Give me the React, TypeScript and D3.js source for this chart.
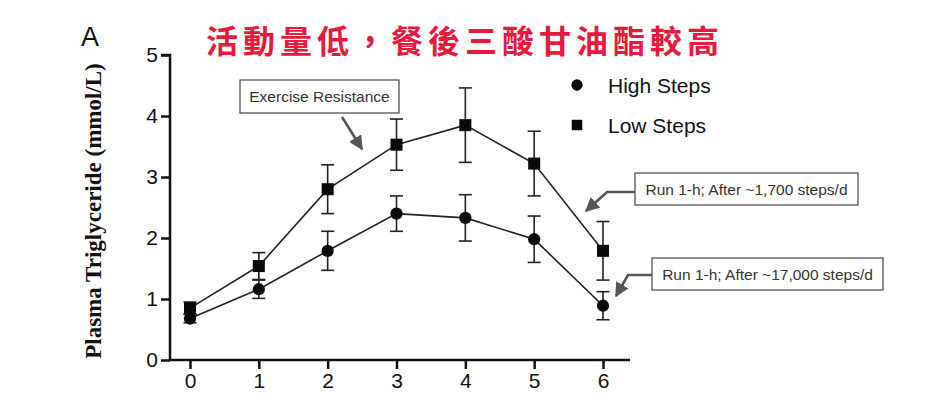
import { useEffect, useRef } from 'react';
import * as d3 from 'd3';

const hours = [0, 1, 2, 3, 4, 5, 6];
const highMean = [0.68, 1.16, 1.79, 2.4, 2.33, 1.98, 0.89];
const highErr = [0.07, 0.15, 0.32, 0.29, 0.38, 0.38, 0.23];
const lowMean = [0.85, 1.54, 2.8, 3.53, 3.85, 3.22, 1.79];
const lowErr = [0.1, 0.22, 0.4, 0.42, 0.61, 0.53, 0.48];
const yTicks = [0, 1, 2, 3, 4, 5];

const W = 927;
const H = 395;
const AX = "Arial, 'Liberation Sans', sans-serif";

export default function App() {
  const svgRef = useRef<SVGSVGElement>(null);

  useEffect(() => {
    if (!svgRef.current) return;
    const svg = d3.select(svgRef.current);
    svg.selectAll('*').remove();

    const x = d3.scaleLinear().domain([0, 6]).range([190, 603]);
    const y = d3.scaleLinear().domain([0, 5]).range([360, 55]);

    // arrow head marker
    svg.append('defs').append('marker')
      .attr('id', 'head')
      .attr('viewBox', '0 0 10 10')
      .attr('refX', 9).attr('refY', 5)
      .attr('markerWidth', 5.5).attr('markerHeight', 5.5)
      .attr('orient', 'auto')
      .append('path').attr('d', 'M0,0 L10,5 L0,10 Z').attr('fill', '#555');

    // title + panel letter
    svg.append('text')
      .attr('x', 206).attr('y', 53)
      .attr('font-family', "'Noto Sans CJK TC', sans-serif")
      .attr('font-weight', 'bold').attr('font-size', 32)
      .attr('letter-spacing', 5)
      .attr('fill', '#e8193c')
      .text('活動量低，餐後三酸甘油酯較高');

    svg.append('text')
      .attr('x', 81).attr('y', 46)
      .attr('font-family', AX).attr('font-size', 27)
      .attr('fill', '#111').text('A');

    // axes
    const yAxis = svg.append('g')
      .attr('transform', 'translate(170,0)')
      .call(d3.axisLeft(y).tickValues(yTicks).tickSize(9).tickPadding(3).tickFormat(d3.format('d')));
    const xAxis = svg.append('g')
      .attr('transform', 'translate(0,360)')
      .call(d3.axisBottom(x).tickValues(hours).tickSize(9).tickPadding(4).tickFormat(d3.format('d')));
    [yAxis, xAxis].forEach(a => {
      a.selectAll('path').attr('stroke', '#111').attr('stroke-width', 2.5);
      a.selectAll('line').attr('stroke', '#111').attr('stroke-width', 2.5);
      a.selectAll('text').attr('font-family', AX).attr('font-size', 21).attr('fill', '#111');
    });
    yAxis.select('.domain').attr('d', 'M-9,55H0V361');
    xAxis.select('.domain').attr('d', 'M169,0H630');

    svg.append('text')
      .attr('transform', 'translate(101,211) rotate(-90)')
      .attr('text-anchor', 'middle')
      .attr('font-family', "'Liberation Serif', 'Times New Roman', serif")
      .attr('font-weight', 'bold').attr('font-size', 23)
      .attr('fill', '#111')
      .text('Plasma Triglyceride (mmol/L)');

    const line = d3.line<number>().x((_, i) => x(hours[i])).y(d => y(d));
    const series = [
      { mean: lowMean, err: lowErr, shape: d3.symbolSquare, size: 145 },
      { mean: highMean, err: highErr, shape: d3.symbolCircle, size: 118 },
    ];

    series.forEach(s => {
      svg.append('path')
        .attr('d', line(s.mean))
        .attr('fill', 'none').attr('stroke', '#222').attr('stroke-width', 1.6);
      const g = svg.append('g').attr('stroke', '#222').attr('stroke-width', 1.6);
      s.mean.forEach((m, i) => {
        const cx = x(hours[i]);
        const y1 = y(m + s.err[i]);
        const y2 = y(m - s.err[i]);
        g.append('line').attr('x1', cx).attr('x2', cx).attr('y1', y1).attr('y2', y2);
        g.append('line').attr('x1', cx - 6.5).attr('x2', cx + 6.5).attr('y1', y1).attr('y2', y1);
        g.append('line').attr('x1', cx - 6.5).attr('x2', cx + 6.5).attr('y1', y2).attr('y2', y2);
      });
      svg.append('g').selectAll('path')
        .data(s.mean).enter().append('path')
        .attr('transform', (d, i) => `translate(${x(hours[i])},${y(d)})`)
        .attr('d', d3.symbol().type(s.shape).size(s.size)())
        .attr('fill', '#0a0a0a');
    });

    // legend
    const legend = [
      { label: 'High Steps', shape: d3.symbolCircle, size: 100 },
      { label: 'Low Steps', shape: d3.symbolSquare, size: 110 },
    ];
    legend.forEach((l, i) => {
      const ly = 85 + i * 40;
      svg.append('path')
        .attr('transform', `translate(577,${ly})`)
        .attr('d', d3.symbol().type(l.shape).size(l.size)())
        .attr('fill', '#0a0a0a');
      svg.append('text')
        .attr('x', 608).attr('y', ly + 8)
        .attr('font-family', AX).attr('font-size', 21)
        .attr('fill', '#111').text(l.label);
    });

    // annotation boxes
    const notes = [
      { text: 'Exercise Resistance', x: 240, y: 80, w: 159, h: 33, arrow: 'M342,117 L362,149' },
      { text: 'Run 1-h; After ~1,700 steps/d', x: 635, y: 173, w: 223, h: 32, arrow: 'M635,192 L607,192 L586,211' },
      { text: 'Run 1-h; After ~17,000 steps/d', x: 652, y: 258, w: 231, h: 32, arrow: 'M652,275 L628,275 L616,296' },
    ];
    notes.forEach(n => {
      svg.append('path')
        .attr('d', n.arrow)
        .attr('fill', 'none').attr('stroke', '#555').attr('stroke-width', 2.6)
        .attr('marker-end', 'url(#head)');
      svg.append('rect')
        .attr('x', n.x).attr('y', n.y).attr('width', n.w).attr('height', n.h)
        .attr('fill', '#fff').attr('stroke', '#444').attr('stroke-width', 1.2);
      svg.append('text')
        .attr('x', n.x + n.w / 2).attr('y', n.y + n.h / 2 + 5.5)
        .attr('text-anchor', 'middle')
        .attr('font-family', AX).attr('font-size', 15.5)
        .attr('fill', '#333').text(n.text);
    });
  }, []);

  return (
    <svg
      ref={svgRef}
      width={W}
      height={H}
      style={{ position: 'absolute', left: 0, top: 0, background: '#fff' }}
    />
  );
}
